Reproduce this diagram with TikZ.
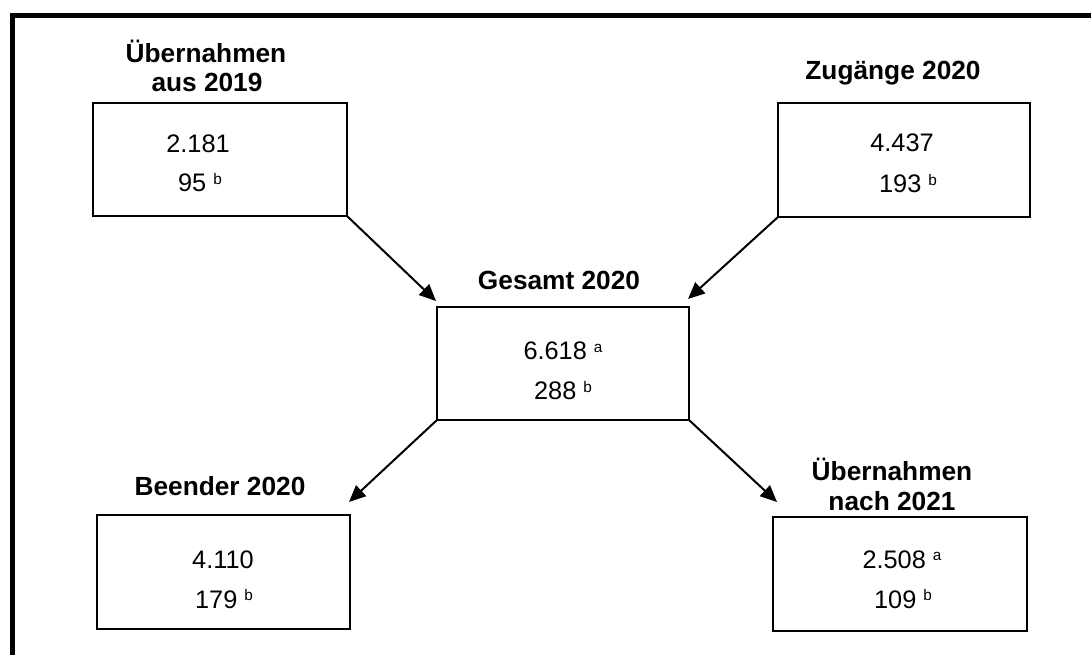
\documentclass[tikz,border=0pt]{standalone}
\usepackage{fontspec}
\setmainfont{Liberation Sans}
\usetikzlibrary{arrows.meta}
\newcommand{\sps}[1]{\raisebox{5.5pt}{\fontsize{11.5}{11.5}\selectfont #1}}
\tikzset{
  box/.style={draw, line width=1.5pt, rectangle, inner sep=0pt, outer sep=0pt},
  lbl/.style={anchor=base, inner sep=0pt, font=\fontsize{19.7}{22}\selectfont\bfseries},
  num/.style={anchor=base, inner sep=0pt, font=\fontsize{19}{22}\selectfont},
  arr/.style={line width=1.5pt, -{Triangle[length=12.5pt,width=11pt]}},
  frame/.style={line width=3.75pt}
}
\begin{document}
\begin{tikzpicture}[x=0.75pt,y=-0.75pt]
\useasboundingbox (0,0) rectangle (1091,655);
\clip (0,0) rectangle (1091,655);
\fill[white] (0,0) rectangle (1091,655);
% frame
\coordinate (fa) at (12.5,700);
\coordinate (fb) at (12.5,15.5);
\coordinate (fc) at (1200,15.5);
\draw[frame] (fa) -- (fb) -- (fc);
% boxes
\node[box, minimum width=190.5pt, minimum height=84.75pt] (b1) at (220,159.5) {};
\node[box, minimum width=189pt, minimum height=85.5pt] (zug) at (904,160) {};
\node[box, minimum width=189pt, minimum height=84.75pt] (ges) at (563,363.5) {};
\node[box, minimum width=189.75pt, minimum height=85.5pt] (bee) at (223.5,572) {};
\node[box, minimum width=190.5pt, minimum height=85.5pt] (nach) at (900,574) {};
% labels
\node[lbl] (l1a) at (206,63) {Übernahmen};
\node[lbl] (l1b) at (207,92) {aus 2019};
\node[lbl] (l2) at (893,80) {Zugänge 2020};
\node[lbl] (l3) at (559,290) {Gesamt 2020};
\node[lbl] (l4) at (220,495) {Beender 2020};
\node[lbl] (l5a) at (892,480) {Übernahmen};
\node[lbl] (l5b) at (892,510) {nach 2021};
% numbers
\node[num] (n1a) at (198,153) {2.181};
\node[num] (n1b) at (200,192) {95 \sps{b}};
\node[num] (n2a) at (902,152) {4.437};
\node[num] (n2b) at (908,193) {193 \sps{b}};
\node[num] (n3a) at (563,360) {6.618 \sps{a}};
\node[num] (n3b) at (563,400) {288 \sps{b}};
\node[num] (n4a) at (223,568) {4.110};
\node[num] (n4b) at (224,608) {179 \sps{b}};
\node[num] (n5a) at (902,568) {2.508 \sps{a}};
\node[num] (n5b) at (903,608) {109 \sps{b}};
% arrows
\coordinate (t1) at (436,301);
\coordinate (t2) at (688,299);
\coordinate (t3) at (349,502);
\coordinate (t4) at (777,502);
\draw[arr] (b1.south east) -- (t1);
\draw[arr] (zug.south west) -- (t2);
\draw[arr] (ges.south west) -- (t3);
\draw[arr] (ges.south east) -- (t4);
\end{tikzpicture}
\end{document}
